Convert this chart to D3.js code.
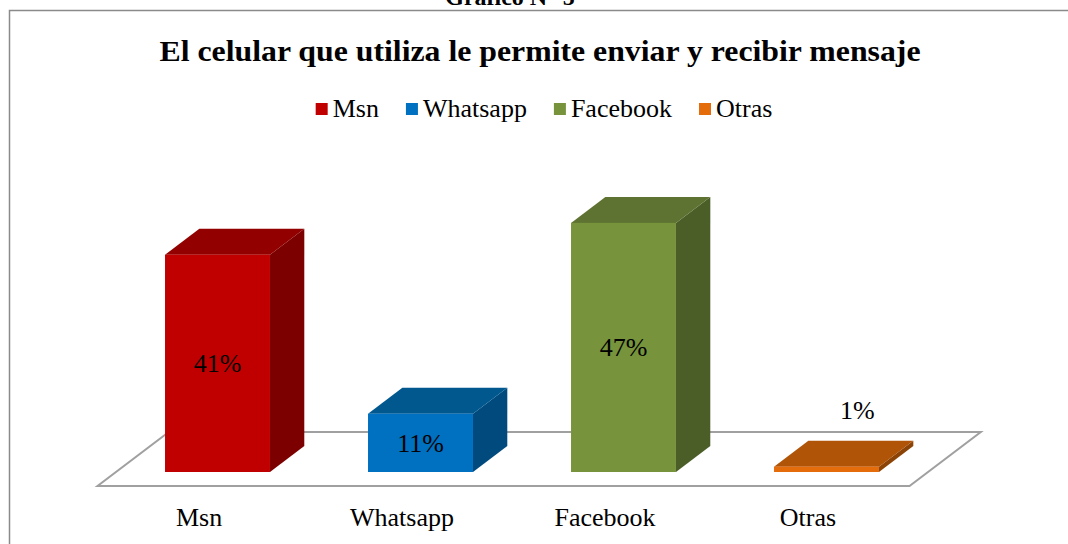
<!DOCTYPE html>
<html>
<head>
<meta charset="utf-8">
<script src="https://cdn.jsdelivr.net/npm/d3@7/dist/d3.min.js"></script>
<style>
  html, body { margin: 0; padding: 0; background: #fff; }
  svg { display: block; }
</style>
</head>
<body>
<svg id="chart" width="1068" height="544"></svg>
<script>
// ---- data ----
const categories = ["Msn", "Whatsapp", "Facebook", "Otras"];
const values = [41, 11, 47, 1];
const valueLabels = ["41%", "11%", "47%", "1%"];
const frontColors = ["#C00000", "#0070C0", "#77933C", "#E46C0A"];
const topColors = ["#920000", "#00588F", "#5E7331", "#B05408"];
const sideColors = ["#7C0000", "#004A7E", "#4B5E28", "#8C4306"];
const chartTitle = "El celular que utiliza le permite enviar y recibir mensaje";
const figureTitle = "Gráfico N° 5";

const FONT = "'Liberation Serif', 'Times New Roman', Times, serif";
const svg = d3.select("#chart").attr("font-family", FONT);
const W = 1068, H = 544;

// chart frame (partially visible)
svg.append("path")
  .attr("d", `M9.5,${H + 5} L9.5,10.5 L${W + 5},10.5`)
  .attr("fill", "none").attr("stroke", "#8a8a8a").attr("stroke-width", 1.5);

// figure caption, cut at top
svg.append("text").attr("x", 510).attr("y", 5)
  .attr("font-family", FONT)
  .attr("text-anchor", "middle").attr("font-size", 24).attr("font-weight", "bold")
  .text(figureTitle);

// title
svg.append("text").attr("x", 540).attr("y", 61)
  .attr("font-family", FONT)
  .attr("text-anchor", "middle").attr("font-size", 29).attr("font-weight", "bold")
  .attr("textLength", 761).attr("lengthAdjust", "spacingAndGlyphs")
  .text(chartTitle);

// legend
const legend = svg.append("g");
const legendItems = legend.selectAll("g").data(categories).join("g");
legendItems.append("rect").attr("width", 12).attr("height", 12).attr("y", 103)
  .attr("fill", (d, i) => frontColors[i]);
legendItems.append("text").attr("y", 117).attr("font-size", 26)
  .attr("font-family", FONT).text(d => d);
let lx = 0;
legendItems.each(function () {
  const g = d3.select(this);
  const tw = g.select("text").node().getComputedTextLength();
  g.select("rect").attr("x", lx);
  g.select("text").attr("x", lx + 17);
  lx += 17 + tw + 27;
});
lx -= 27;
legend.attr("transform", `translate(${544 - lx / 2},0)`);

// ---- 3D-ish bar chart ----
const baseY = 472;            // bottom of bar front faces
const kx = 1.32;              // oblique x shift per px of depth (y)
const barDepth = 26;          // depth of bars (y px)
const floorFront = 14, floorBack = 40;

const x = d3.scaleBand().domain(categories).range([116, 928])
  .paddingInner(0.483).paddingOuter(0.2415);
const y = d3.scaleLinear().domain([0, 50]).range([baseY, baseY - 265]);

const r0 = x.range()[0], r1 = x.range()[1];
// floor
const floorPts = [
  [r0 - floorFront * kx, baseY + floorFront],
  [r1 - floorFront * kx, baseY + floorFront],
  [r1 + floorBack * kx, baseY - floorBack],
  [r0 + floorBack * kx, baseY - floorBack]
];
svg.append("polygon")
  .attr("points", floorPts.map(p => p.join(",")).join(" "))
  .attr("fill", "#fff").attr("stroke", "#a0a0a0").attr("stroke-width", 2);

const dx = barDepth * kx, dy = barDepth;
const bars = svg.selectAll("g.bar").data(categories).join("g").attr("class", "bar");
bars.each(function (c, i) {
  const g = d3.select(this);
  const x0 = x(c), x1 = x0 + x.bandwidth();
  const yt = y(values[i]), yb = y(0);
  // side
  g.append("polygon")
    .attr("points", [[x1, yt], [x1 + dx, yt - dy], [x1 + dx, yb - dy], [x1, yb]].map(p => p.join(",")).join(" "))
    .attr("fill", sideColors[i]);
  // top
  g.append("polygon")
    .attr("points", [[x0, yt], [x0 + dx, yt - dy], [x1 + dx, yt - dy], [x1, yt]].map(p => p.join(",")).join(" "))
    .attr("fill", topColors[i]);
  // front
  g.append("rect").attr("x", x0).attr("y", yt).attr("width", x1 - x0).attr("height", yb - yt)
    .attr("fill", frontColors[i]);
  // value label
  const h = yb - yt;
  const t = g.append("text").attr("font-family", FONT)
    .attr("text-anchor", "middle").attr("font-size", 26).text(valueLabels[i]);
  if (h > 40) {
    t.attr("x", (x0 + x1) / 2).attr("y", (yt + yb) / 2 + 9);
  } else {
    t.attr("x", (x0 + x1) / 2 + dx * 0.9).attr("y", yt - dy - 22);
  }
});

// category labels
svg.selectAll("text.cat").data(categories).join("text").attr("class", "cat")
  .attr("font-family", FONT)
  .attr("x", d => x(d) + x.bandwidth() / 2 - floorFront * kx)
  .attr("y", 526).attr("text-anchor", "middle").attr("font-size", 26)
  .text(d => d);
</script>
</body>
</html>
